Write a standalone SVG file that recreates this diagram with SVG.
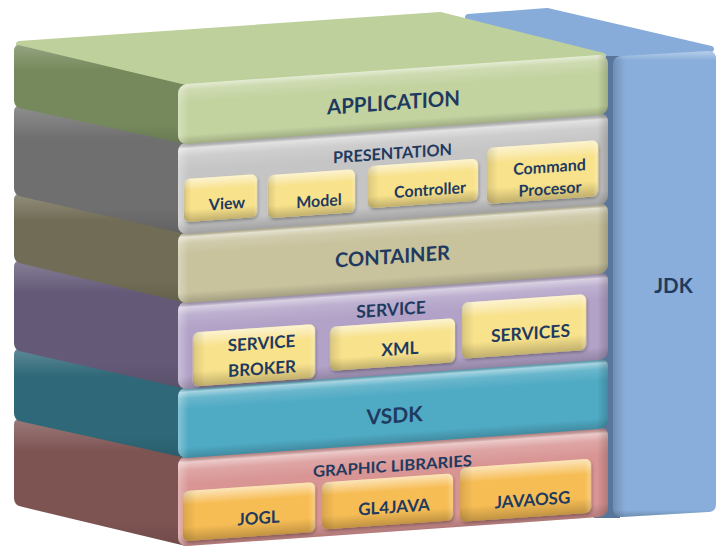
<svg xmlns="http://www.w3.org/2000/svg" width="716" height="546" viewBox="0 0 716 546">
<defs>
<linearGradient id="vshade" x1="0" y1="0" x2="0" y2="1">
<stop offset="0" stop-color="#fff" stop-opacity="0.55"/>
<stop offset="0.1" stop-color="#fff" stop-opacity="0.18"/>
<stop offset="0.3" stop-color="#fff" stop-opacity="0"/>
<stop offset="0.85" stop-color="#000" stop-opacity="0"/>
<stop offset="1" stop-color="#000" stop-opacity="0.18"/>
</linearGradient>
<linearGradient id="vshade2" x1="0" y1="0" x2="0" y2="1">
<stop offset="0" stop-color="#000" stop-opacity="0.15"/>
<stop offset="0.07" stop-color="#fff" stop-opacity="0.5"/>
<stop offset="0.16" stop-color="#fff" stop-opacity="0.15"/>
<stop offset="0.32" stop-color="#fff" stop-opacity="0"/>
<stop offset="0.85" stop-color="#000" stop-opacity="0"/>
<stop offset="1" stop-color="#000" stop-opacity="0.18"/>
</linearGradient>
<linearGradient id="hshade" x1="0" y1="0" x2="1" y2="0">
<stop offset="0" stop-color="#fff" stop-opacity="0.3"/>
<stop offset="0.025" stop-color="#fff" stop-opacity="0"/>
<stop offset="0.975" stop-color="#000" stop-opacity="0"/>
<stop offset="1" stop-color="#000" stop-opacity="0.18"/>
</linearGradient>
<linearGradient id="lshade" x1="0" y1="0" x2="0" y2="1">
<stop offset="0" stop-color="#fff" stop-opacity="0.22"/>
<stop offset="0.25" stop-color="#fff" stop-opacity="0"/>
<stop offset="0.8" stop-color="#000" stop-opacity="0"/>
<stop offset="1" stop-color="#000" stop-opacity="0.12"/>
</linearGradient>
<linearGradient id="bshade" x1="0" y1="0" x2="0" y2="1">
<stop offset="0" stop-color="#fff" stop-opacity="0.6"/>
<stop offset="0.28" stop-color="#fff" stop-opacity="0"/>
<stop offset="0.72" stop-color="#000" stop-opacity="0"/>
<stop offset="1" stop-color="#000" stop-opacity="0.22"/>
</linearGradient>
<linearGradient id="bside" x1="0" y1="0" x2="1" y2="0">
<stop offset="0" stop-color="#000" stop-opacity="0.12"/>
<stop offset="0.1" stop-color="#000" stop-opacity="0"/>
<stop offset="0.95" stop-color="#fff" stop-opacity="0"/>
<stop offset="1" stop-color="#fff" stop-opacity="0.25"/>
</linearGradient>
<linearGradient id="jshade" x1="0" y1="0" x2="1" y2="0">
<stop offset="0" stop-color="#000" stop-opacity="0.18"/>
<stop offset="0.12" stop-color="#000" stop-opacity="0"/>
</linearGradient>
<linearGradient id="jtop" x1="0" y1="0" x2="0" y2="1">
<stop offset="0" stop-color="#fff" stop-opacity="0.4"/>
<stop offset="0.02" stop-color="#fff" stop-opacity="0"/>
<stop offset="0.985" stop-color="#000" stop-opacity="0"/>
<stop offset="1" stop-color="#000" stop-opacity="0.2"/>
</linearGradient>
<filter id="ds" x="-10%" y="-10%" width="125%" height="135%">
<feDropShadow dx="1" dy="2" stdDeviation="1.5" flood-color="#000" flood-opacity="0.3"/>
</filter>
</defs>
<style>
.t{font-family:Lato,"Open Sans","Liberation Sans",sans-serif;font-weight:700;fill:#1f3a5f;text-anchor:middle}
.yb{fill:#f8e28c}
.ob{fill:#f7bd55}
</style>

<g id="jdk">
<polygon points="468,17 547,11 711,49 618,56" fill="#88acd9" stroke="#88acd9" stroke-width="6" stroke-linejoin="round"/>
<rect x="594" y="56" width="26" height="462" fill="#58759b"/>
<path d="M622,56 L708,51 Q716,51 716,59 L716,504 Q716,512 708,512 L622,517 Q613,517 613,508 L613,65 Q613,56 622,56 Z" fill="#89aedb"/>
<path d="M622,56 L708,51 Q716,51 716,59 L716,504 Q716,512 708,512 L622,517 Q613,517 613,508 L613,65 Q613,56 622,56 Z" fill="url(#jshade)"/>
<path d="M622,56 L708,51 Q716,51 716,59 L716,504 Q716,512 708,512 L622,517 Q613,517 613,508 L613,65 Q613,56 622,56 Z" fill="url(#jtop)"/>
<text class="t" x="673.5" y="293" font-size="20.5">JDK</text>
</g>

<g id="graphic-libraries">
<path d="M186,456 L21,419.5 Q14,418 14,425 L14,498 Q14,505 21,506.6 L186,546 Z" fill="#7e5453"/>
<path d="M186,456 L21,419.5 Q14,418 14,425 L14,498 Q14,505 21,506.6 L186,546 Z" fill="url(#lshade)"/>
<g transform="skewY(-4)">
<rect x="178" y="469" width="430" height="90" rx="9" fill="#d89594"/>
<rect x="178" y="469" width="430" height="90" rx="9" fill="url(#vshade2)"/>
<rect x="178" y="469" width="430" height="90" rx="9" fill="url(#hshade)"/>
<text class="t" x="392.5" y="499" font-size="15.5" textLength="159" lengthAdjust="spacingAndGlyphs">GRAPHIC LIBRARIES</text>
</g>
</g>
<g id="jogl">
<g transform="skewY(-4)">
<rect x="183" y="504" width="132" height="50" rx="6" class="ob" filter="url(#ds)"/>
<rect x="183" y="504" width="132" height="50" rx="6" fill="url(#bshade)"/>
<rect x="183" y="504" width="132" height="50" rx="6" fill="url(#bside)"/>
<text class="t" x="258.5" y="542" font-size="17">JOGL</text>
</g>
</g>
<g id="gl4java">
<g transform="skewY(-4)">
<rect x="322" y="505" width="131" height="47" rx="6" class="ob" filter="url(#ds)"/>
<rect x="322" y="505" width="131" height="47" rx="6" fill="url(#bshade)"/>
<rect x="322" y="505" width="131" height="47" rx="6" fill="url(#bside)"/>
<text class="t" x="394" y="540.5" font-size="17">GL4JAVA</text>
</g>
</g>
<g id="javaosg">
<g transform="skewY(-4)">
<rect x="460" y="500" width="131" height="54" rx="6" class="ob" filter="url(#ds)"/>
<rect x="460" y="500" width="131" height="54" rx="6" fill="url(#bshade)"/>
<rect x="460" y="500" width="131" height="54" rx="6" fill="url(#bside)"/>
<text class="t" x="532.5" y="543" font-size="17">JAVAOSG</text>
</g>
</g>

<g id="vsdk">
<path d="M186,387 L21,349.5 Q14,348 14,355 L14,413 Q14,420 21,421.6 L186,458 Z" fill="#2f6878"/>
<path d="M186,387 L21,349.5 Q14,348 14,355 L14,413 Q14,420 21,421.6 L186,458 Z" fill="url(#lshade)"/>
<g transform="skewY(-4)">
<rect x="178" y="400" width="430" height="71" rx="9" fill="#4faac4"/>
<rect x="178" y="400" width="430" height="71" rx="9" fill="url(#vshade2)"/>
<rect x="178" y="400" width="430" height="71" rx="9" fill="url(#hshade)"/>
<text class="t" x="394.5" y="450.5" font-size="21">VSDK</text>
</g>
</g>

<g id="service">
<path d="M186,301 L21,261.5 Q14,260 14,267 L14,343 Q14,350 21,351.6 L186,389 Z" fill="#645a78"/>
<path d="M186,301 L21,261.5 Q14,260 14,267 L14,343 Q14,350 21,351.6 L186,389 Z" fill="url(#lshade)"/>
<g transform="skewY(-4)">
<rect x="178" y="314" width="430" height="88" rx="9" fill="#b2a2c7"/>
<rect x="178" y="314" width="430" height="88" rx="9" fill="url(#vshade2)"/>
<rect x="178" y="314" width="430" height="88" rx="9" fill="url(#hshade)"/>
<text class="t" x="391" y="343" font-size="17.5">SERVICE</text>
</g>
</g>
<g id="service-broker">
<g transform="skewY(-4)">
<rect x="193" y="346" width="122" height="54" rx="6" class="yb" filter="url(#ds)"/>
<rect x="193" y="346" width="122" height="54" rx="6" fill="url(#bshade)"/>
<rect x="193" y="346" width="122" height="54" rx="6" fill="url(#bside)"/>
<text class="t" x="261.5" y="367.5" font-size="17">SERVICE</text>
<text class="t" x="262" y="393" font-size="17">BROKER</text>
</g>
</g>
<g id="xml">
<g transform="skewY(-4)">
<rect x="330" y="350" width="125" height="44" rx="6" class="yb" filter="url(#ds)"/>
<rect x="330" y="350" width="125" height="44" rx="6" fill="url(#bshade)"/>
<rect x="330" y="350" width="125" height="44" rx="6" fill="url(#bside)"/>
<text class="t" x="400" y="383" font-size="17.5">XML</text>
</g>
</g>
<g id="services">
<g transform="skewY(-4)">
<rect x="462" y="335" width="124" height="56" rx="6" class="yb" filter="url(#ds)"/>
<rect x="462" y="335" width="124" height="56" rx="6" fill="url(#bshade)"/>
<rect x="462" y="335" width="124" height="56" rx="6" fill="url(#bside)"/>
<text class="t" x="530.5" y="376.5" font-size="17.5">SERVICES</text>
</g>
</g>

<g id="container">
<path d="M186,232 L21,194.5 Q14,193 14,200 L14,255 Q14,262 21,263.6 L186,303 Z" fill="#716c55"/>
<path d="M186,232 L21,194.5 Q14,193 14,200 L14,255 Q14,262 21,263.6 L186,303 Z" fill="url(#lshade)"/>
<g transform="skewY(-4)">
<rect x="178" y="245" width="430" height="71" rx="9" fill="#c8c29d"/>
<rect x="178" y="245" width="430" height="71" rx="9" fill="url(#vshade2)"/>
<rect x="178" y="245" width="430" height="71" rx="9" fill="url(#hshade)"/>
<text class="t" x="392.5" y="291" font-size="20" textLength="115" lengthAdjust="spacingAndGlyphs">CONTAINER</text>
</g>
</g>

<g id="presentation">
<path d="M186,143 L21,106.5 Q14,105 14,112 L14,188 Q14,195 21,196.6 L186,234 Z" fill="#6f6f6f"/>
<path d="M186,143 L21,106.5 Q14,105 14,112 L14,188 Q14,195 21,196.6 L186,234 Z" fill="url(#lshade)"/>
<g transform="skewY(-4)">
<rect x="178" y="155" width="430" height="92" rx="9" fill="#c5c5c5"/>
<rect x="178" y="155" width="430" height="92" rx="9" fill="url(#vshade2)"/>
<rect x="178" y="155" width="430" height="92" rx="9" fill="url(#hshade)"/>
<text class="t" x="392.5" y="186.5" font-size="16" textLength="119" lengthAdjust="spacingAndGlyphs">PRESENTATION</text>
</g>
</g>
<g id="view">
<g transform="skewY(-4)">
<rect x="184" y="192" width="73" height="43" rx="6" class="yb" filter="url(#ds)"/>
<rect x="184" y="192" width="73" height="43" rx="6" fill="url(#bshade)"/>
<rect x="184" y="192" width="73" height="43" rx="6" fill="url(#bside)"/>
<text class="t" x="227" y="225" font-size="16">View</text>
</g>
</g>
<g id="model">
<g transform="skewY(-4)">
<rect x="268" y="194" width="87" height="43" rx="6" class="yb" filter="url(#ds)"/>
<rect x="268" y="194" width="87" height="43" rx="6" fill="url(#bshade)"/>
<rect x="268" y="194" width="87" height="43" rx="6" fill="url(#bside)"/>
<text class="t" x="319" y="229" font-size="16">Model</text>
</g>
</g>
<g id="controller">
<g transform="skewY(-4)">
<rect x="368" y="192" width="110" height="42" rx="6" class="yb" filter="url(#ds)"/>
<rect x="368" y="192" width="110" height="42" rx="6" fill="url(#bshade)"/>
<rect x="368" y="192" width="110" height="42" rx="6" fill="url(#bside)"/>
<text class="t" x="430" y="225.5" font-size="16">Controller</text>
</g>
</g>
<g id="command-procesor">
<g transform="skewY(-4)">
<rect x="487" y="182" width="111" height="56" rx="6" class="yb" filter="url(#ds)"/>
<rect x="487" y="182" width="111" height="56" rx="6" fill="url(#bshade)"/>
<rect x="487" y="182" width="111" height="56" rx="6" fill="url(#bside)"/>
<text class="t" x="549.5" y="211" font-size="16">Command</text>
<text class="t" x="550" y="233" font-size="16">Procesor</text>
</g>
</g>

<g id="application">
<polygon points="19,44 440,15 603,56 182,86" fill="#bed09b" stroke="#bed09b" stroke-width="6" stroke-linejoin="round"/>
<path d="M186,85 L21,45.7 Q14,44 14,51 L14,100 Q14,107 21,108.6 L186,144 Z" fill="#76895c"/>
<path d="M186,85 L21,45.7 Q14,44 14,51 L14,100 Q14,107 21,108.6 L186,144 Z" fill="url(#lshade)"/>
<g transform="skewY(-4)">
<rect x="178" y="97" width="430" height="60" rx="9" fill="#c3d3a0"/>
<rect x="178" y="97" width="430" height="60" rx="9" fill="url(#vshade)"/>
<rect x="178" y="97" width="430" height="60" rx="9" fill="url(#hshade)"/>
<text class="t" x="393.5" y="137.5" font-size="21" textLength="133" lengthAdjust="spacingAndGlyphs">APPLICATION</text>
</g>
</g>
</svg>
